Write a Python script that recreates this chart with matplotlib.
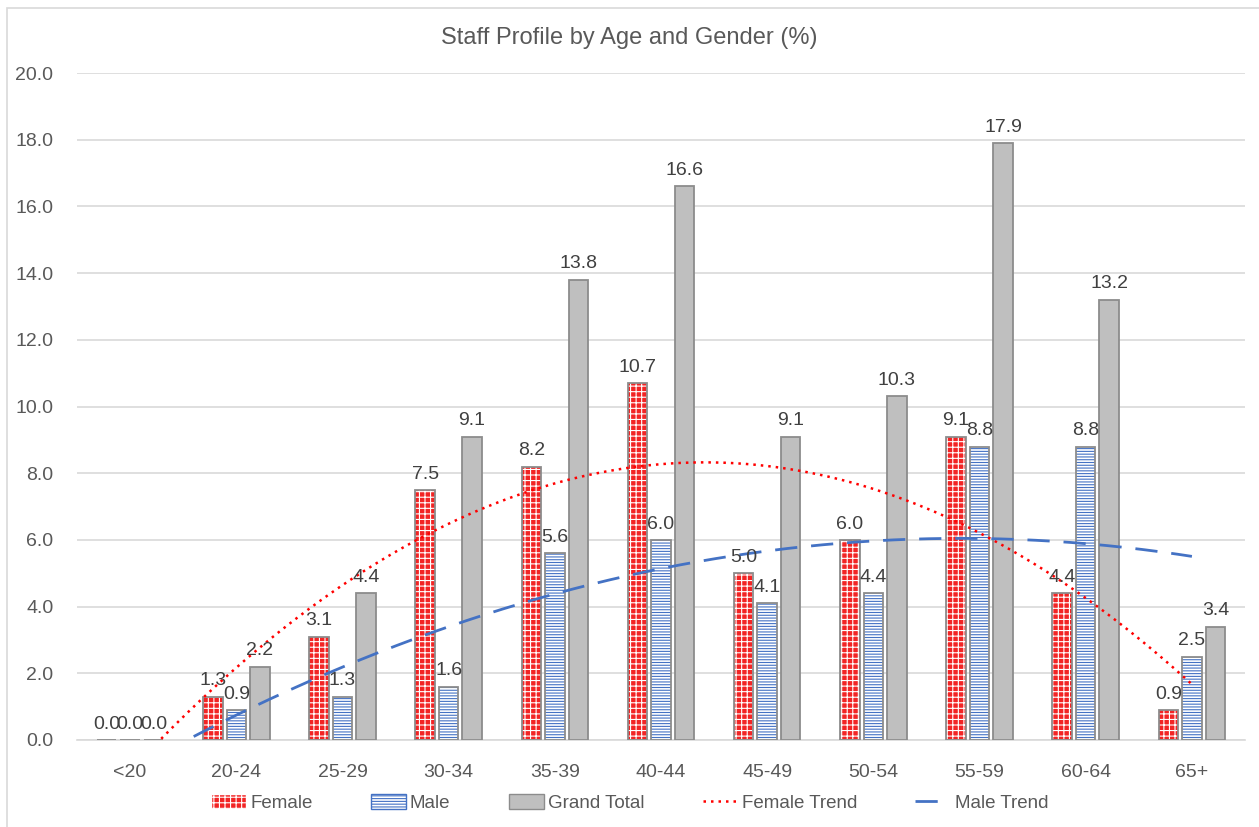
import matplotlib
matplotlib.use("Agg")
import matplotlib.pyplot as plt
import numpy as np
from matplotlib.patches import Rectangle

plt.rcParams['font.family'] = ['Liberation Sans', 'DejaVu Sans']
plt.rcParams['hatch.linewidth'] = 0.8

# ---- data ----
ages = ["<20", "20-24", "25-29", "30-34", "35-39", "40-44",
        "45-49", "50-54", "55-59", "60-64", "65+"]
female = [0.0, 1.3, 3.1, 7.5, 8.2, 10.7, 5.0, 6.0, 9.1, 4.4, 0.9]
male = [0.0, 0.9, 1.3, 1.6, 5.6, 6.0, 4.1, 4.4, 8.8, 8.8, 2.5]
total = [0.0, 2.2, 4.4, 9.1, 13.8, 16.6, 9.1, 10.3, 17.9, 13.2, 3.4]

x = np.arange(len(ages))
w = 0.184
step = 0.221
edge = '#8C8C8C'
lbl = '#404040'

fig = plt.figure(figsize=(12.59, 8.27), dpi=100)
ax = fig.add_axes([77/1259, 1 - 740/827, (1245-77)/1259, (740-73)/827])

def bars(xs, vals, face, hatch, hcol, name):
    # fill + hatch first, then a plain outline on top
    ax.bar(xs, vals, w, color=face, hatch=hatch, edgecolor=hcol, linewidth=0, zorder=2)
    ax.bar(xs, vals, w, fill=False, edgecolor=edge, linewidth=1.3, zorder=3)
    for xi, v in zip(xs, vals):
        ax.text(xi, v + 0.22, f"{v:.1f}", ha='center', va='bottom',
                fontsize=14, color=lbl, zorder=5)
    return ax.bar([0], [0], w, color=face, hatch=hatch, edgecolor=hcol,
                  linewidth=0, label=name)

h1 = bars(x - step, female, '#F22424', '+++', 'white', 'Female')
h2 = bars(x, male, 'white', '------', '#4472C4', 'Male')
h3 = bars(x + step, total, '#BFBFBF', None, edge, 'Grand Total')

# polynomial (order 2) trend lines like Excel
xx = np.linspace(0, len(ages) - 1, 300)
pf = np.polyfit(x, female, 2)
pm = np.polyfit(x, male, 2)
l1, = ax.plot(xx, np.polyval(pf, xx), color='#FF0000', linestyle=(0, (1, 2)),
              linewidth=1.8, zorder=4, label='Female Trend')
l2, = ax.plot(xx, np.polyval(pm, xx), color='#4472C4', linestyle=(0, (8, 5)),
              linewidth=2.0, zorder=4, label='Male Trend')

ax.set_xlim(-0.5, len(ages) - 0.5)
ax.set_ylim(0, 20)
ax.set_yticks(np.arange(0, 20.1, 2))
ax.set_yticklabels([f"{t:.1f}" for t in np.arange(0, 20.1, 2)])
ax.set_xticks(x)
ax.set_xticklabels(ages)
ax.tick_params(axis='both', length=0, labelsize=14, labelcolor='#595959')
ax.tick_params(axis='x', pad=17)
ax.tick_params(axis='y', pad=17)
ax.grid(axis='y', color='#D9D9D9', linewidth=1.2, zorder=0)
ax.set_axisbelow(True)
for s in ['top', 'right', 'left']:
    ax.spines[s].set_visible(False)
ax.spines['bottom'].set_color('#D9D9D9')
ax.spines['bottom'].set_linewidth(1.2)

fig.text(0.5, 1 - 38/827, "Staff Profile by Age and Gender (%)", ha='center',
         va='center', fontsize=17, color='#595959')

leg = fig.legend(handles=[h1, h2, h3, l1, l2], loc='center',
                 bbox_to_anchor=(0.5, 1 - 803/827), ncol=5, frameon=False,
                 fontsize=13.5, handlelength=1.9, handleheight=0.8,
                 columnspacing=3.1, handletextpad=0.2)
for t in leg.get_texts():
    t.set_color('#595959')
for p in leg.get_patches():
    p.set_linewidth(1.0)

# chart border (image cropped on right/bottom)
fig.patches.append(Rectangle((7/1259, -0.1), 1.2, 1 - 8/827 + 0.1,
                             transform=fig.transFigure, fill=False,
                             edgecolor='#D9D9D9', linewidth=1.2))

fig.savefig("out.png", dpi=100)
